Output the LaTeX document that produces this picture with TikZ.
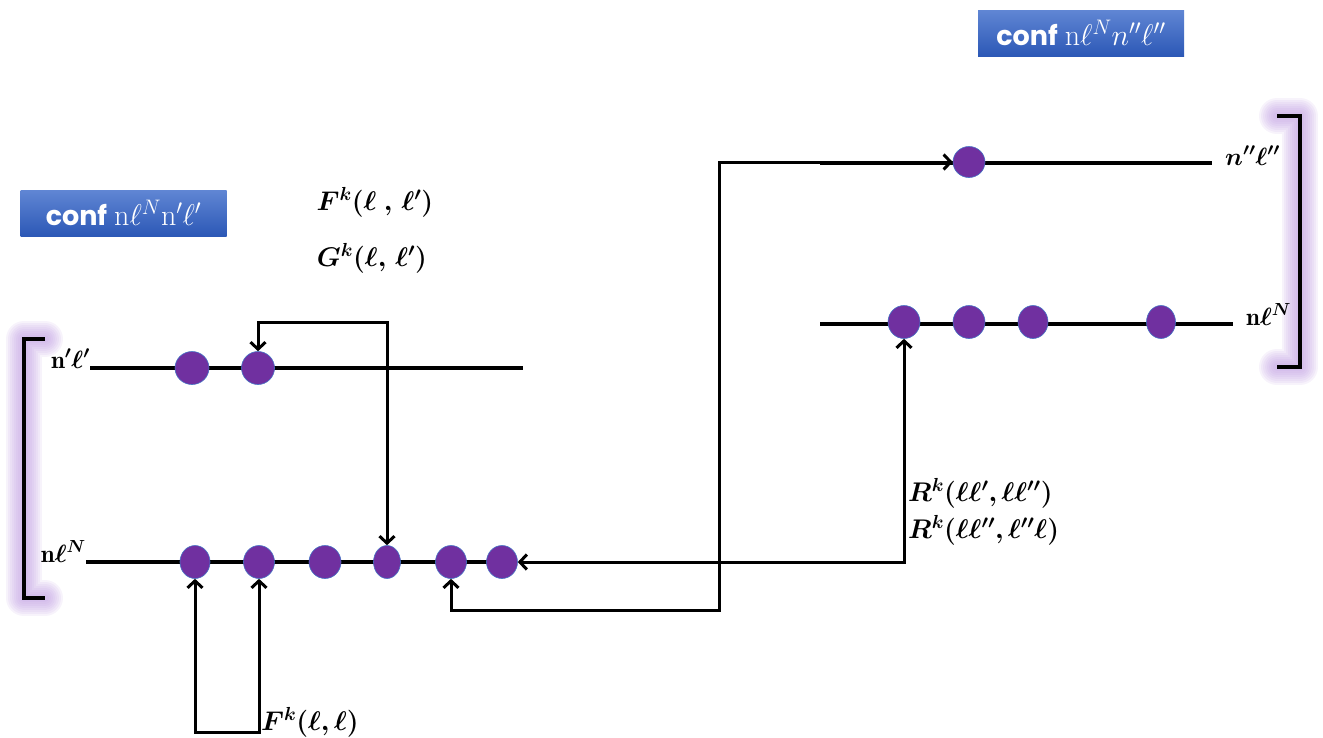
\documentclass[tikz,border=0pt]{standalone}
\usepackage{fix-cm}
\usepackage{fontspec}
\usepackage{bm}
\usetikzlibrary{arrows.meta,shapes.geometric}
\newfontfamily\boxfont{Poppins}
\definecolor{dotfill}{RGB}{112,48,160}
\definecolor{dotline}{RGB}{68,114,196}
\definecolor{glow}{RGB}{190,155,225}
\definecolor{boxtop}{RGB}{96,134,212}
\definecolor{boxbot}{RGB}{44,88,182}
\tikzset{
  dot/.style={ellipse, fill=dotfill, draw=dotline, line width=0.6pt, inner sep=0pt,
    minimum width=#1, minimum height=33pt},
  dot/.default=32pt,
  rowline/.style={line width=3.2pt},
  link/.style={line width=3pt,
    arrows={Straight Barb[length=7pt,width=15pt]-Straight Barb[length=7pt,width=15pt]}},
  rowlab/.style={inner sep=0pt, font=\fontsize{25}{29}\selectfont},
  biglab/.style={inner sep=0pt, font=\fontsize{27}{32}\selectfont},
  rlab/.style={inner sep=0pt, font=\fontsize{27}{31}\selectfont},
  confbox/.style={rectangle, inner sep=0pt, minimum width=206pt, minimum height=46pt,
    top color=boxtop, bottom color=boxbot, text=white},
  halo/.style={draw=glow, line cap=round, line join=round, opacity=0.12},
  brack/.style={line width=3.2pt}
}
\newcommand{\glowpath}[1]{%
  \foreach \w in {36,32,...,8}{\draw[halo, line width=\w pt] #1;}%
  \draw[brack] #1;}
\newcommand{\confword}{{\fontsize{27}{30}\boxfont\bfseries conf}\hspace{7pt}}
\newcommand{\confmath}[1]{{\fontsize{30}{32}\selectfont$#1$}}
\begin{document}
\begin{tikzpicture}[x=1pt,y=-1pt]
\useasboundingbox (0,0) rectangle (1323,737);

% brackets with lavender halo
\glowpath{(45,339) -- (24,339) -- (24,598) -- (45,598)}
\glowpath{(1277,116) -- (1300,116) -- (1300,367) -- (1277,367)}

% configuration boxes
\node[confbox] (confL) at (123.5,213) {\confword\confmath{\mathrm{n}\ell^{N}\mathrm{n}'\ell'}};
\node[confbox] (confR) at (1081,33) {\confword\confmath{\mathrm{n}\ell^{N}n''\ell''}};

% row labels
\node[rowlab, anchor=base east] (labA) at (90,368) {$\bm{\mathrm{n}'\ell'}$};
\node[rowlab, anchor=base east] (labB) at (86,562) {$\bm{\mathrm{n}\ell^{N}}$};
\node[rowlab, anchor=base west] (labC) at (1225,165) {$\bm{n''\ell''}$};
\node[rowlab, anchor=base west] (labD) at (1246,325) {$\bm{\mathrm{n}\ell^{N}}$};

% row line ends
\coordinate (endA) at (523,368);
\coordinate (endB) at (502,562);
\coordinate (startC) at (820,163);
\coordinate (startD) at (820,324);
\coordinate (endC) at (1212,163);
\coordinate (endD) at (1233,324);

% orbital lines
\draw[rowline] (labA.base east) -- (endA);
\draw[rowline] (labB.base east) -- (endB);
\draw[rowline] (startC) -- (endC);
\draw[rowline] (startD) -- (endD);

% electrons
\node[dot=34pt] (a1) at (192,368) {};
\node[dot=33pt] (a2) at (258,368) {};
\node[dot=30pt] (b1) at (195,562) {};
\node[dot=31pt] (b2) at (259,562) {};
\node[dot=32pt] (b3) at (325,562) {};
\node[dot=27pt] (b4) at (387,562) {};
\node[dot=31pt] (b5) at (451,562) {};
\node[dot=31pt] (b6) at (502,562) {};
\node[dot=32pt, minimum height=31pt] (c1) at (969,162) {};
\node[dot=32pt] (d1) at (904,322) {};
\node[dot=32pt] (d2) at (969,322) {};
\node[dot=30pt] (d3) at (1033,322) {};
\node[dot=29pt] (d4) at (1161,322) {};

% interaction connectors
\coordinate (jog) at (719,610);
\draw[link] (a2.north) -- ++(0,-29) -| (b4.north);
\draw[link] (b6.east) -| (d1.south);
\draw[link] (b5.south) |- (jog) |- (c1.west);
\draw[link] (b1.south) -- ++(0,154) -| (b2.south);

% integral labels
\node[biglab] (Fll1) at (375,202) {$\bm{F^{k}(\ell\;,\,\ell')}$};
\node[biglab] (Gll1) at (372,258) {$\bm{G^{k}(\ell,\,\ell')}$};
\node[biglab, anchor=base west] (Fll) at (261,730) {$\bm{F^{k}(\ell,\ell)}$};
\node[rlab, anchor=base west] (R1) at (908,501) {$\bm{R^{k}(\ell\ell',\ell\ell'')}$};
\node[rlab, anchor=base west] (R2) at (908,538) {$\bm{R^{k}(\ell\ell'',\ell''\ell)}$};
\end{tikzpicture}
\end{document}
